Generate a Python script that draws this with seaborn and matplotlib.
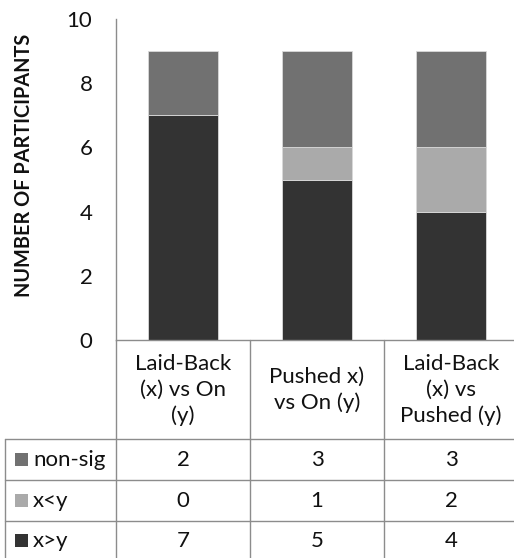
import numpy as np
import pandas as pd
import matplotlib
matplotlib.use("Agg")
import matplotlib.pyplot as plt
import matplotlib.transforms as mtransforms
from matplotlib.patches import Rectangle
import seaborn as sns

# data
categories = ["Laid-Back\n(x) vs On\n(y)", "Pushed x)\nvs On (y)", "Laid-Back\n(x) vs\nPushed (y)"]
series_names = ["non-sig", "x<y", "x>y"]          # table row order (top -> bottom)
non_sig = [2, 3, 3]
x_lt_y = [0, 1, 2]
x_gt_y = [7, 5, 4]
y_ticks = [0, 2, 4, 6, 8, 10]

series = {"non-sig": non_sig, "x<y": x_lt_y, "x>y": x_gt_y}
colors = {"non-sig": "#717171", "x<y": "#aaaaaa", "x>y": "#333333"}

sns.set_style("white")
plt.rcParams['font.family'] = ['Lato', 'DejaVu Sans']

W, H = 514, 558
fig = plt.figure(figsize=(W / 100, H / 100), dpi=100)
fs = 16
txt_c = "#111111"


def fx(px):
    return px / W


def fy(px):
    return 1 - px / H


ax = fig.add_axes([fx(116), fy(340), fx(518) - fx(116), fy(19) - fy(340)])

df = pd.DataFrame({"category": categories, **series})

# stacked bars: x>y at the bottom, then x<y, then non-sig
bottom = np.zeros(len(categories))
for name in ["x>y", "x<y", "non-sig"]:
    sns.barplot(data=df, x="category", y=name, bottom=bottom, color=colors[name],
                width=0.515, edgecolor="#d9d9d9", linewidth=0.6, saturation=1, ax=ax)
    bottom = bottom + df[name].to_numpy()

ax.set_xlim(-0.5, len(categories) - 0.5)
ax.set_ylim(0, 10)
ax.set_yticks(y_ticks)
ax.tick_params(axis="y", length=0, pad=17, labelsize=fs, labelcolor=txt_c)
ax.set_xticks([])
ax.set_xlabel("")
ax.set_ylabel("NUMBER OF PARTICIPANTS", fontsize=14.3, fontweight="bold", color=txt_c)
ax.yaxis.set_label_coords(-0.203, 0.545)

grid_c = "#8c8c8c"
for s in ["top", "right"]:
    ax.spines[s].set_visible(False)
for s in ["left", "bottom"]:
    ax.spines[s].set_color(grid_c)
    ax.spines[s].set_linewidth(1.0)

# data table under the plot
blend = mtransforms.blended_transform_factory(ax.transData, fig.transFigure)
row_lines = [439, 480, 521]
row_centers = [459, 500, 540]

fig.add_artist(plt.Line2D([fx(116), fx(116)], [fy(340), 0], transform=fig.transFigure,
                          color=grid_c, lw=1.0))
fig.add_artist(plt.Line2D([fx(5), fx(5)], [fy(439), 0], transform=fig.transFigure,
                          color=grid_c, lw=1.0))
for k in range(1, len(categories)):
    fig.add_artist(plt.Line2D([k - 0.5, k - 0.5], [fy(340), 0], transform=blend,
                              color=grid_c, lw=1.0))
for yl in row_lines:
    fig.add_artist(plt.Line2D([fx(5), 1], [fy(yl), fy(yl)], transform=fig.transFigure,
                              color=grid_c, lw=1.0))

for i, cat in enumerate(categories):
    fig.text(i, fy(390), cat, transform=blend, ha="center", va="center",
             fontsize=fs, linespacing=1.35, color=txt_c)

for r, name in enumerate(series_names):
    yc = row_centers[r]
    fig.add_artist(Rectangle((fx(15), fy(yc + 7)), fx(13), 13 / H, transform=fig.transFigure,
                             facecolor=colors[name], edgecolor="none"))
    fig.text(fx(33), fy(yc + 1), name, ha="left", va="center", fontsize=fs, color=txt_c)
    for i, v in enumerate(series[name]):
        fig.text(i, fy(yc + 1), str(v), transform=blend, ha="center", va="center",
                 fontsize=fs, color=txt_c)

fig.savefig("out.png", dpi=100)
